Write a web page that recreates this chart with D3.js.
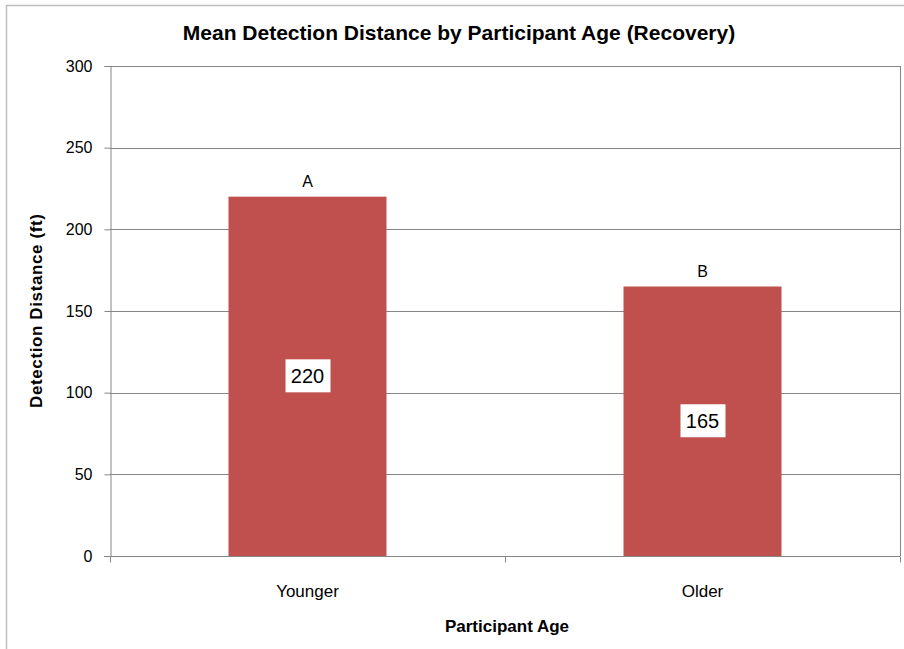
<!DOCTYPE html>
<html lang="en">
<head>
<meta charset="utf-8">
<title>Mean Detection Distance by Participant Age</title>
<script src="https://d3js.org/d3.v7.min.js"></script>
<style>
  body { margin: 0; background: #fff; }
  text { font-family: "Liberation Sans", Arial, sans-serif; fill: #000; }
</style>
</head>
<body>
<div id="chart"></div>
<script>
// data
var categories = ["Younger", "Older"];
var values = [220, 165];
var letters = ["A", "B"];
var yTicks = [0, 50, 100, 150, 200, 250, 300];

var width = 904, height = 649;
var plot = {left: 110, right: 900, top: 66, bottom: 556};

var svg = d3.select("#chart").append("svg")
  .attr("width", width)
  .attr("height", height);

// outer chart border
svg.append("rect")
  .attr("x", 6.5).attr("y", 5.5)
  .attr("width", width + 10).attr("height", height + 10)
  .attr("fill", "none")
  .attr("stroke", "#bfbfbf")
  .attr("stroke-width", 1.5);

var x = d3.scaleBand().domain(categories).range([plot.left, plot.right]).padding(0);
var y = d3.scaleLinear().domain([0, 300]).range([plot.bottom, plot.top]);

// gridlines
svg.append("g").selectAll("line")
  .data(yTicks.slice(1))
  .enter().append("line")
  .attr("x1", plot.left).attr("x2", plot.right)
  .attr("y1", function(d){ return Math.round(y(d)) + 0.5; })
  .attr("y2", function(d){ return Math.round(y(d)) + 0.5; })
  .attr("stroke", "#868686");

// plot area right edge
svg.append("line")
  .attr("x1", plot.right + 0.5).attr("x2", plot.right + 0.5)
  .attr("y1", plot.top).attr("y2", plot.bottom)
  .attr("stroke", "#868686");

// bars
var barW = x.bandwidth() * 0.4;
svg.append("g").selectAll("rect")
  .data(values)
  .enter().append("rect")
  .attr("x", function(d, i){ return x(categories[i]) + (x.bandwidth() - barW) / 2; })
  .attr("y", function(d){ return y(d); })
  .attr("width", barW)
  .attr("height", function(d){ return y(0) - y(d); })
  .attr("fill", "#C0504D");

// y axis
var yAxis = d3.axisLeft(y).tickValues(yTicks).tickSize(6).tickPadding(12);
var gy = svg.append("g")
  .attr("transform", "translate(" + (plot.left + 0.5) + ",0)")
  .call(yAxis);
gy.select(".domain").attr("stroke", "#868686");
gy.selectAll(".tick line").attr("stroke", "#868686");
gy.selectAll(".tick text")
  .style("font-size", "16px")
  .attr("fill", "#000");

// x axis (ticks at category boundaries)
var gx = svg.append("g")
  .attr("transform", "translate(0," + (plot.bottom + 0.5) + ")");
gx.append("line")
  .attr("x1", plot.left - 6).attr("x2", plot.right)
  .attr("stroke", "#868686");
var bounds = categories.map(function(c){ return x(c); }).concat([plot.right]);
gx.selectAll(".bt")
  .data(bounds)
  .enter().append("line")
  .attr("class", "bt")
  .attr("x1", function(d){ return Math.round(d) + 0.5; })
  .attr("x2", function(d){ return Math.round(d) + 0.5; })
  .attr("y1", 0).attr("y2", 6)
  .attr("stroke", "#868686");
gx.selectAll(".cl")
  .data(categories)
  .enter().append("text")
  .attr("class", "cl")
  .attr("x", function(d){ return x(d) + x.bandwidth() / 2; })
  .attr("y", 40)
  .attr("text-anchor", "middle")
  .style("font-size", "17px")
  .text(function(d){ return d; });

// letter labels above bars
svg.append("g").selectAll("text")
  .data(values)
  .enter().append("text")
  .attr("x", function(d, i){ return x(categories[i]) + x.bandwidth() / 2; })
  .attr("y", function(d){ return y(d) - 10; })
  .attr("text-anchor", "middle")
  .style("font-size", "16px")
  .text(function(d, i){ return letters[i]; });

// value labels in white boxes
var vl = svg.append("g").selectAll("g")
  .data(values)
  .enter().append("g")
  .attr("transform", function(d, i){
    return "translate(" + (x(categories[i]) + x.bandwidth() / 2) + "," + ((y(d) + y(0)) / 2) + ")";
  });
vl.append("rect")
  .attr("x", -22).attr("y", -17)
  .attr("width", 45).attr("height", 33)
  .attr("fill", "#fff");
vl.append("text")
  .attr("y", 7)
  .attr("text-anchor", "middle")
  .style("font-size", "20px")
  .text(function(d){ return d; });

// title
svg.append("text")
  .attr("x", 459).attr("y", 40)
  .attr("text-anchor", "middle")
  .style("font-size", "21px")
  .style("font-weight", "bold")
  .text("Mean Detection Distance by Participant Age (Recovery)");

// axis titles
svg.append("text")
  .attr("x", (plot.left + plot.right) / 2 + 2).attr("y", 632)
  .attr("text-anchor", "middle")
  .style("font-size", "17px")
  .style("font-weight", "bold")
  .text("Participant Age");

svg.append("text")
  .attr("transform", "translate(42,311) rotate(-90)")
  .attr("text-anchor", "middle")
  .attr("textLength", 194)
  .attr("lengthAdjust", "spacing")
  .style("font-size", "17px")
  .style("font-weight", "bold")
  .text("Detection Distance (ft)");
</script>
</body>
</html>
